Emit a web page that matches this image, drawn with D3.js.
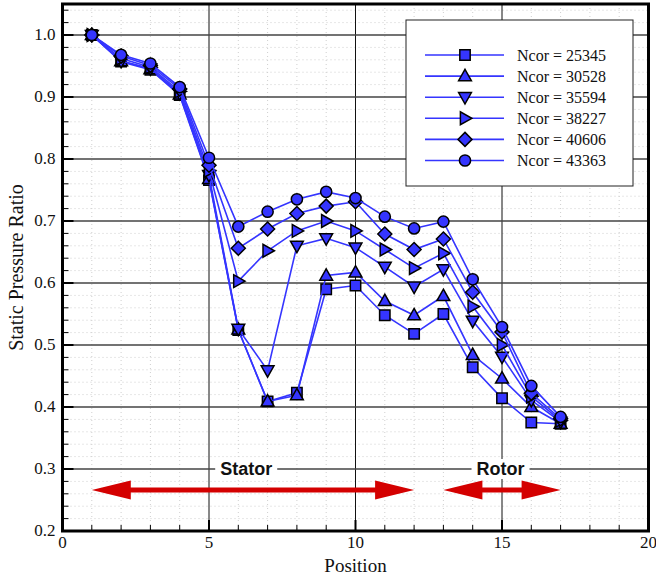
<!DOCTYPE html>
<html>
<head>
<meta charset="utf-8">
<script src="https://cdn.jsdelivr.net/npm/d3@7"></script>
<style>
  body { margin: 0; background: #fff; }
  svg { display: block; }
  .tick-label { font-family: "Liberation Serif", "Times New Roman", serif; font-size: 17px; fill: #111; }
  .axis-title { font-family: "Liberation Serif", "Times New Roman", serif; font-size: 20px; fill: #111; }
  .legend-text { font-family: "Liberation Serif", "Times New Roman", serif; font-size: 16px; fill: #111; }
  .zone-label { font-family: "Liberation Sans", Arial, sans-serif; font-size: 18px; font-weight: bold; fill: #111; }
</style>
</head>
<body>
<div id="chart"></div>
<script>
// position index along the machine
const positions = [1, 2, 3, 4, 5, 6, 7, 8, 9, 10, 11, 12, 13, 14, 15, 16, 17];

// static pressure ratio, one array per corrected speed
const ncor25345 = [1.0, 0.957, 0.944, 0.903, 0.766, 0.524, 0.409, 0.423, 0.590, 0.596, 0.548, 0.518, 0.550, 0.464, 0.414, 0.375, 0.373];
const ncor30528 = [1.0, 0.958, 0.945, 0.904, 0.768, 0.525, 0.409, 0.419, 0.612, 0.617, 0.571, 0.548, 0.579, 0.484, 0.446, 0.400, 0.373];
const ncor35594 = [1.0, 0.958, 0.946, 0.906, 0.774, 0.526, 0.459, 0.660, 0.672, 0.657, 0.626, 0.594, 0.622, 0.539, 0.481, 0.411, 0.376];
const ncor38227 = [1.0, 0.962, 0.948, 0.909, 0.781, 0.603, 0.652, 0.684, 0.700, 0.684, 0.654, 0.624, 0.648, 0.562, 0.500, 0.417, 0.378];
const ncor40606 = [1.0, 0.966, 0.951, 0.913, 0.790, 0.656, 0.687, 0.712, 0.724, 0.731, 0.679, 0.654, 0.671, 0.585, 0.521, 0.422, 0.381];
const ncor43363 = [1.0, 0.968, 0.954, 0.916, 0.802, 0.691, 0.715, 0.735, 0.747, 0.737, 0.707, 0.688, 0.699, 0.606, 0.529, 0.434, 0.384];

const seriesNames = ["Ncor = 25345", "Ncor = 30528", "Ncor = 35594", "Ncor = 38227", "Ncor = 40606", "Ncor = 43363"];
const seriesValues = [ncor25345, ncor30528, ncor35594, ncor38227, ncor40606, ncor43363];
const markerKinds = ["square", "up", "down", "right", "diamond", "circle"];

// stator / rotor spans (in position units) and where their labels sit
const zones = [
    {label: "Stator", from: 1, to: 12, labelAt: 6.27},
    {label: "Rotor", from: 13, to: 17, labelAt: 14.95}
];

const xTicks = [0, 5, 10, 15, 20];
const yTicks = [0.2, 0.3, 0.4, 0.5, 0.6, 0.7, 0.8, 0.9, 1.0];

const width = 656, height = 577;
const margin = {top: 4, right: 7.5, bottom: 46, left: 62.5};
const blue = "#3535ff";
const red = "#d40000";

const svg = d3.select("#chart").append("svg")
    .attr("width", width)
    .attr("height", height);

const x = d3.scaleLinear().domain([0, 20]).range([margin.left, width - margin.right]);
const y = d3.scaleLinear().domain([0.2, 1.05]).range([height - margin.bottom, margin.top]);

svg.append("defs").append("clipPath").attr("id", "plot")
    .append("rect")
    .attr("x", x(0)).attr("y", y(1.05))
    .attr("width", x(20) - x(0)).attr("height", y(0.2) - y(1.05));

// minor grid (dotted)
const grid = svg.append("g");
grid.selectAll(".vminor")
    .data(d3.range(1, 20).filter(d => d % 5 !== 0))
    .join("line")
    .attr("x1", d => x(d)).attr("x2", d => x(d))
    .attr("y1", y(1.05)).attr("y2", y(0.2))
    .attr("stroke", "#cfcfcf").attr("stroke-width", 1).attr("stroke-dasharray", "1,3");
grid.selectAll(".hminor")
    .data(d3.range(0.22, 1.05, 0.02).filter(d => Math.abs(d * 10 - Math.round(d * 10)) > 0.01))
    .join("line")
    .attr("x1", x(0)).attr("x2", x(20))
    .attr("y1", d => y(d)).attr("y2", d => y(d))
    .attr("stroke", "#cfcfcf").attr("stroke-width", 1).attr("stroke-dasharray", "1,3");

// major grid
grid.selectAll(".vmajor")
    .data([5, 10, 15])
    .join("line")
    .attr("x1", d => x(d)).attr("x2", d => x(d))
    .attr("y1", y(1.05)).attr("y2", y(0.2))
    .attr("stroke", "#111").attr("stroke-width", 1);
grid.selectAll(".hmajor")
    .data(yTicks.slice(1))
    .join("line")
    .attr("x1", x(0)).attr("x2", x(20))
    .attr("y1", d => y(d)).attr("y2", d => y(d))
    .attr("stroke", "#444").attr("stroke-width", 1.3);

// zone labels (white background hides grid line)
const zoneG = svg.append("g");
zones.forEach(z => {
    const t = zoneG.append("text")
        .attr("class", "zone-label")
        .attr("x", x(z.labelAt)).attr("y", y(0.3) + 6)
        .attr("text-anchor", "middle")
        .text(z.label);
    const bb = t.node().getBBox();
    zoneG.insert("rect", "text")
        .attr("x", bb.x - 5).attr("y", bb.y)
        .attr("width", bb.width + 10).attr("height", bb.height)
        .attr("fill", "#fff");
});

// double arrows
const arrowY = y(0.266);
const headLen = 39, headHalf = 9.5, shaft = 5;
zones.forEach(z => {
    const x0 = x(z.from), x1 = x(z.to);
    zoneG.append("path")
        .attr("d", `M${x0},${arrowY}L${x0 + headLen},${arrowY - headHalf}L${x0 + headLen},${arrowY - shaft / 2}` +
            `L${x1 - headLen},${arrowY - shaft / 2}L${x1 - headLen},${arrowY - headHalf}L${x1},${arrowY}` +
            `L${x1 - headLen},${arrowY + headHalf}L${x1 - headLen},${arrowY + shaft / 2}` +
            `L${x0 + headLen},${arrowY + shaft / 2}L${x0 + headLen},${arrowY + headHalf}Z`)
        .attr("fill", red);
});

// marker shapes
function markerPath(kind) {
    const s = 5.2;
    switch (kind) {
        case "square": return `M${-s},${-s}H${s}V${s}H${-s}Z`;
        case "up": return `M0,${-6.8}L${6.4},${4.6}L${-6.4},${4.6}Z`;
        case "down": return `M0,${6.8}L${6.4},${-4.6}L${-6.4},${-4.6}Z`;
        case "right": return `M${6.8},0L${-4.6},${6.4}L${-4.6},${-6.4}Z`;
        case "diamond": return `M0,-7L7,0L0,7L-7,0Z`;
        default: return d3.arc()({innerRadius: 0, outerRadius: 5.6, startAngle: 0, endAngle: 2 * Math.PI});
    }
}

const line = d3.line().x((d, i) => x(positions[i])).y(d => y(d));

const plot = svg.append("g").attr("clip-path", "url(#plot)");
seriesValues.forEach((vals, k) => {
    const g = plot.append("g");
    g.append("path")
        .datum(vals)
        .attr("d", line)
        .attr("fill", "none")
        .attr("stroke", blue)
        .attr("stroke-width", 1.6);
    g.selectAll("path.m")
        .data(vals)
        .join("path")
        .attr("class", "m")
        .attr("transform", (d, i) => `translate(${x(positions[i])},${y(d)})`)
        .attr("d", markerPath(markerKinds[k]))
        .attr("fill", blue)
        .attr("stroke", "#000")
        .attr("stroke-width", 1.5);
});

// legend
const legend = svg.append("g");
legend.append("rect")
    .attr("x", 406).attr("y", 20)
    .attr("width", 227).attr("height", 166)
    .attr("fill", "#fff").attr("stroke", "#222").attr("stroke-width", 1);
seriesNames.forEach((name, k) => {
    const ly = 55 + k * 21.1;
    legend.append("line")
        .attr("x1", 425).attr("x2", 504)
        .attr("y1", ly).attr("y2", ly)
        .attr("stroke", blue).attr("stroke-width", 1.6);
    legend.append("path")
        .attr("transform", `translate(465,${ly})`)
        .attr("d", markerPath(markerKinds[k]))
        .attr("fill", blue).attr("stroke", "#000").attr("stroke-width", 1.5);
    legend.append("text")
        .attr("class", "legend-text")
        .attr("x", 517).attr("y", ly + 5.5)
        .text(name);
});

// ticks (inward)
const ticks = svg.append("g");
ticks.selectAll(".ym")
    .data(d3.range(0.22, 1.05, 0.02))
    .join("line")
    .attr("x1", x(0)).attr("x2", x(0) + 6)
    .attr("y1", d => y(d)).attr("y2", d => y(d))
    .attr("stroke", "#000").attr("stroke-width", 1);
ticks.selectAll(".yM")
    .data(yTicks)
    .join("line")
    .attr("x1", x(0)).attr("x2", x(0) + 11)
    .attr("y1", d => y(d)).attr("y2", d => y(d))
    .attr("stroke", "#000").attr("stroke-width", 2);
ticks.selectAll(".xm")
    .data(d3.range(1, 20))
    .join("line")
    .attr("x1", d => x(d)).attr("x2", d => x(d))
    .attr("y1", y(0.2)).attr("y2", y(0.2) - 6)
    .attr("stroke", "#000").attr("stroke-width", 1);
ticks.selectAll(".xM")
    .data(xTicks)
    .join("line")
    .attr("x1", d => x(d)).attr("x2", d => x(d))
    .attr("y1", y(0.2)).attr("y2", y(0.2) - 11)
    .attr("stroke", "#000").attr("stroke-width", 2);

// frame
svg.append("rect")
    .attr("x", x(0)).attr("y", y(1.05))
    .attr("width", x(20) - x(0)).attr("height", y(0.2) - y(1.05))
    .attr("fill", "none").attr("stroke", "#000").attr("stroke-width", 3);

// tick labels
svg.selectAll(".ylab")
    .data(yTicks)
    .join("text")
    .attr("class", "tick-label")
    .attr("x", x(0) - 7).attr("y", d => y(d) + 5)
    .attr("text-anchor", "end")
    .text(d => d3.format(".1f")(d));
svg.selectAll(".xlab")
    .data(xTicks)
    .join("text")
    .attr("class", "tick-label")
    .attr("x", d => x(d)).attr("y", y(0.2) + 17)
    .attr("text-anchor", "middle")
    .text(d => d);

// axis titles
svg.append("text")
    .attr("class", "axis-title")
    .attr("x", x(10)).attr("y", height - 5)
    .attr("text-anchor", "middle")
    .style("font-size", "19px")
    .text("Position");
svg.append("text")
    .attr("class", "axis-title")
    .attr("transform", `translate(23,${y(0.625)}) rotate(-90)`)
    .attr("text-anchor", "middle")
    .text("Static Pressure Ratio");
</script>
</body>
</html>
